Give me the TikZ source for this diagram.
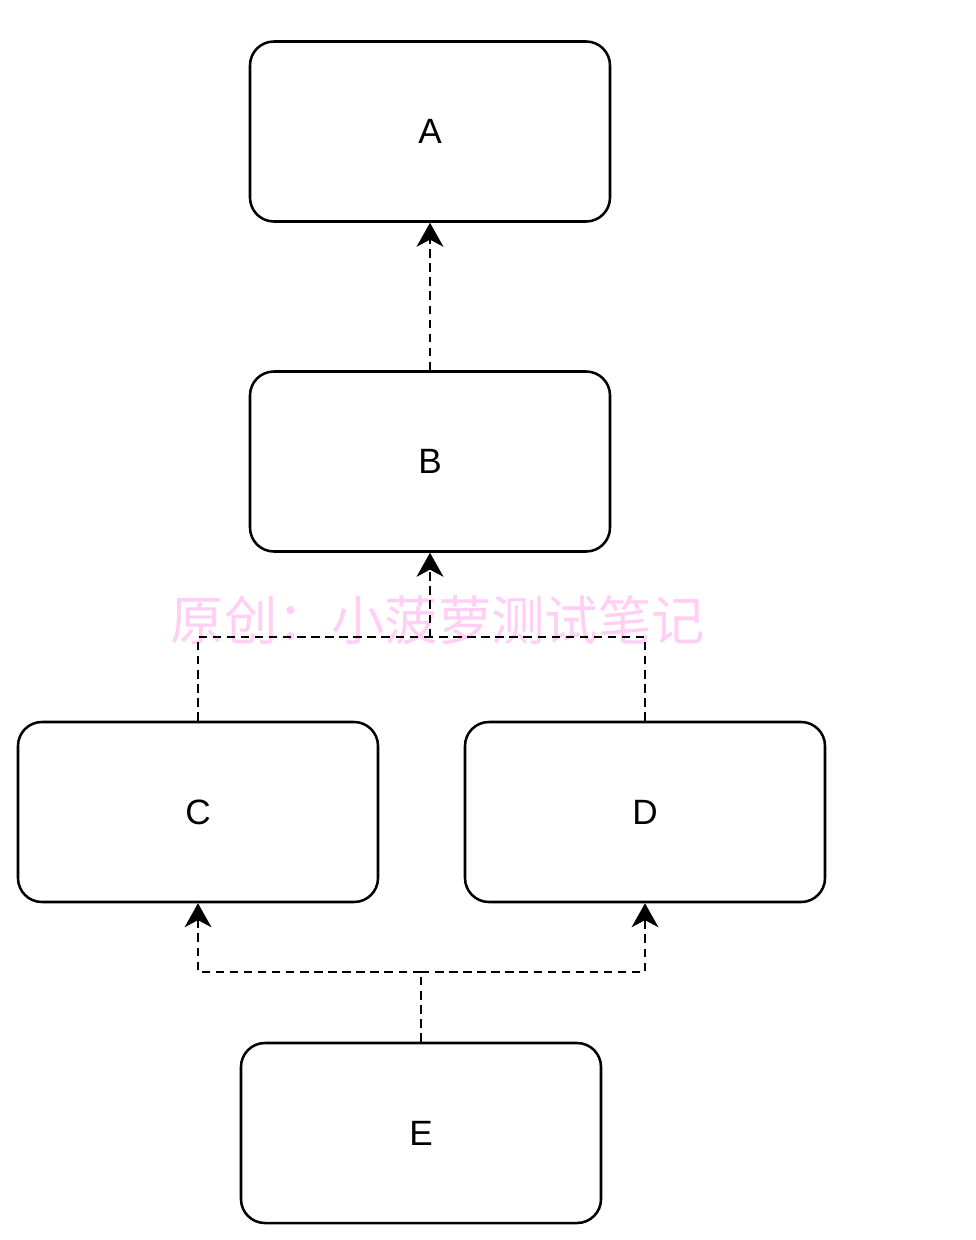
\documentclass[tikz,border=0pt]{standalone}
\usepackage{fontspec}
\setmainfont{Liberation Sans}
\newfontfamily\cjk{Noto Sans CJK SC}
\usetikzlibrary{arrows.meta}
\definecolor{ink}{HTML}{000000}
\definecolor{wmpink}{HTML}{FFD0F4}

\begin{document}
\begin{tikzpicture}[x=0.025cm,y=-0.025cm,>={Stealth[length=17pt,width=19pt,inset=5pt]},
    box/.style={draw=ink,line width=1.8pt,rounded corners=17pt,minimum width=360*0.025cm,
      minimum height=180*0.025cm,font=\fontsize{25}{30}\selectfont,inner sep=0pt},
    link/.style={ink,line width=1.8pt,dash pattern=on 6pt off 4pt}]
  \useasboundingbox (0,0) rectangle (975,1240);

  % boxes
  \node[box] (a) at (430,131.5) {A};
  \node[box] (b) at (430,461.5) {B};
  \node[box] (c) at (198,812) {C};
  \node[box] (d) at (645,812) {D};
  \node[box] (e) at (421,1133) {E};

  % watermark
  \node[wmpink,font=\cjk\fontsize{38}{40}\selectfont] (wm) at (438,620) {原创：小菠萝测试笔记};

  % joints
  \coordinate (top) at (430,637);
  \coordinate (low) at (421,972);

  % links
  \draw[link,->] (b.north) -- (a.south);
  \draw[link] (c.north) |- (top);
  \draw[link] (d.north) |- (top);
  \draw[link,->] (top) -- (b.south);
  \draw[link] (e.north) -- (low);
  \draw[link,->] (low) -| (c.south);
  \draw[link,->] (low) -| (d.south);
\end{tikzpicture}
\end{document}
